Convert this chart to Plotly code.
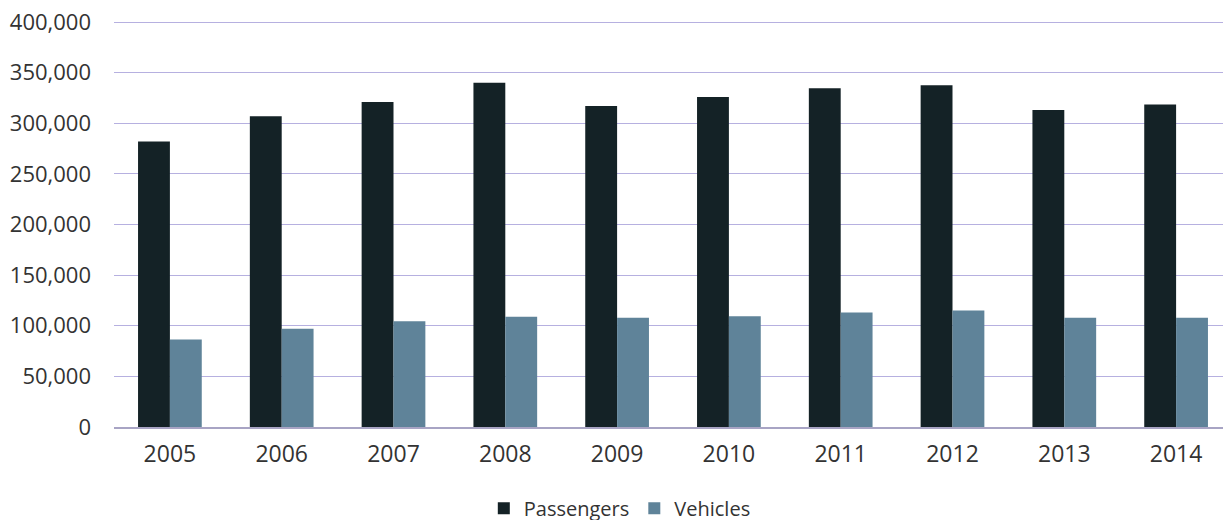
import plotly.graph_objects as go

years = ["2005", "2006", "2007", "2008", "2009", "2010", "2011", "2012", "2013", "2014"]
passengers = [282000, 307000, 321000, 340000, 317000, 326000, 334500, 337500, 313000, 318500]
vehicles = [86500, 97000, 104500, 109000, 108000, 109500, 113000, 115000, 108000, 108000]
y_ticks = [0, 50000, 100000, 150000, 200000, 250000, 300000, 350000, 400000]
y_tick_labels = ["0", "50,000", "100,000", "150,000", "200,000", "250,000", "300,000", "350,000", "400,000"]

font_family = "Open Sans, Noto Sans, sans-serif"

fig = go.Figure()
fig.add_trace(go.Bar(name="Passengers", x=years, y=passengers, marker=dict(color="#142226", line=dict(width=0))))
fig.add_trace(go.Bar(name="Vehicles", x=years, y=vehicles, marker=dict(color="#5f8399", line=dict(width=0))))

fig.update_layout(
    width=1231, height=520,
    barmode="group", bargap=0.43, bargroupgap=0,
    paper_bgcolor="white", plot_bgcolor="white",
    margin=dict(l=106, r=7, t=13, b=101, autoexpand=False),
    font=dict(family=font_family, size=20, color="#333333"),
    showlegend=True,
    legend=dict(orientation="h", x=0.497, xref="container", xanchor="center",
                y=0.038, yref="container", yanchor="middle",
                font=dict(size=20, color="#333333"), itemwidth=30, traceorder="normal"),
)
fig.update_xaxes(showgrid=False, showline=True, linecolor="#a8a4c4", linewidth=1.5,
                 ticks="", tickfont=dict(size=23, color="#333333"), ticklabelstandoff=6)
fig.update_yaxes(range=[0, 401000], tickvals=y_ticks, ticktext=y_tick_labels,
                 showgrid=True, gridcolor="#b6b0e0", gridwidth=1.2, zeroline=False,
                 showline=False, ticks="", ticklabelstandoff=22, ticklabeloverflow="allow",
                 tickfont=dict(size=22, color="#333333"))

fig.write_html("out.html")
